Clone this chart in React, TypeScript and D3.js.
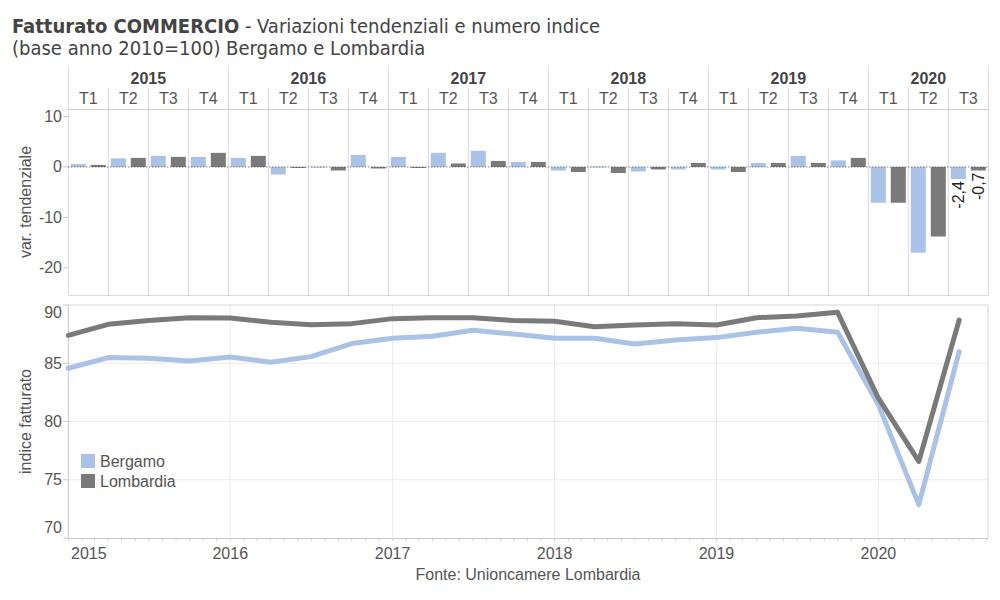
import React from "react";
import * as d3 from "d3";

const years = ["2015", "2016", "2017", "2018", "2019", "2020"];
const quartersPerYear = [4, 4, 4, 4, 4, 3];
const quarterLabels = ["T1", "T2", "T3", "T4"];
const periodDates = [
  "2015-01-01", "2015-04-01", "2015-07-01", "2015-10-01",
  "2016-01-01", "2016-04-01", "2016-07-01", "2016-10-01",
  "2017-01-01", "2017-04-01", "2017-07-01", "2017-10-01",
  "2018-01-01", "2018-04-01", "2018-07-01", "2018-10-01",
  "2019-01-01", "2019-04-01", "2019-07-01", "2019-10-01",
  "2020-01-01", "2020-04-01", "2020-07-01",
];
const varBergamo = [0.6, 1.7, 2.2, 2.0, 1.8, -1.5, 0.05, 2.4, 2.0, 2.8, 3.2, 1.0, -0.7, 0.1, -0.9, -0.5, -0.5, 0.8, 2.2, 1.3, -7.1, -17.0, -2.4];
const varLombardia = [0.4, 1.8, 2.0, 2.8, 2.2, -0.1, -0.7, -0.3, -0.1, 0.7, 1.2, 1.0, -1.0, -1.2, -0.5, 0.8, -1.0, 0.8, 0.8, 1.8, -7.1, -13.8, -0.7];
const idxBergamo = [84.57, 85.49, 85.43, 85.2, 85.54, 85.09, 85.57, 86.69, 87.14, 87.31, 87.83, 87.51, 87.14, 87.14, 86.66, 87.0, 87.2, 87.66, 88.0, 87.66, 81.43, 72.86, 86.0];
const idxLombardia = [87.4, 88.34, 88.66, 88.91, 88.89, 88.51, 88.31, 88.4, 88.83, 88.91, 88.91, 88.66, 88.6, 88.14, 88.29, 88.4, 88.29, 88.91, 89.06, 89.37, 82.0, 76.57, 88.71];
const seriesNames = ["Bergamo", "Lombardia"];
const seriesColors = ["#a9c2e5", "#7a7a7a"];
const varTicks = [10, 0, -10, -20];
const idxTicks = [90, 85, 80, 75, 70];
const yearTicks = ["2015-01-01", "2016-01-01", "2017-01-01", "2018-01-01", "2019-01-01", "2020-01-01"];

const FONT = "'Liberation Sans', Arial, sans-serif";
const TITLE_FONT = "'DejaVu Sans Condensed', 'DejaVu Sans', sans-serif";
const TEXT = "#555";

export default function App() {
  const L = 68.3, R = 988.3;
  const periods = years.flatMap((y, i) =>
    quarterLabels.slice(0, quartersPerYear[i]).map((q) => ({ year: y, q, key: y + q }))
  );
  const keys = periods.map((p) => p.key);
  const xBand = d3.scaleBand<string>().domain(keys).range([L, R]).padding(0);
  const xInner = d3.scaleBand<string>().domain(seriesNames).range([0, xBand.bandwidth()]).paddingInner(0.25).paddingOuter(0.125);
  const yVar = d3.scaleLinear().domain([-25.4, 11.5]).range([295, 109]);

  const parse = d3.timeParse("%Y-%m-%d");
  const dates = periodDates.map((d) => parse(d)!);
  const xTime = d3.scaleTime().domain([parse("2015-01-01")!, parse("2020-09-04")!]).range([L, 988]);
  const yIdx = d3.scaleLinear().domain([70, 90]).range([538, 305]);

  const line = d3.line<number>().x((_, i) => xTime(dates[i])).y((v) => yIdx(v));
  const varSeries = [varBergamo, varLombardia];
  const idxSeries = [idxBergamo, idxLombardia];
  const fmt = (v: number) => d3.format(".1f")(v).replace(".", ",").replace("−", "-");

  let acc = 0;
  const yearSpans = years.map((y, i) => {
    const start = xBand(keys[acc])!;
    acc += quartersPerYear[i];
    const end = acc < keys.length ? xBand(keys[acc])! : R;
    return { y, start, end };
  });
  const months = d3.timeMonth.range(parse("2015-01-01")!, parse("2020-09-04")!);

  return (
    <svg width={1000} height={600} style={{ position: "absolute", left: 0, top: 0, background: "#fff" }} fontFamily={FONT}>
      <rect width={1000} height={600} fill="#fff" />
      {/* title */}
      <text x={12} y={33} fontFamily={TITLE_FONT} fontSize={20} fill="#444" style={{ fontStretch: "condensed" }}>
        <tspan fontWeight="bold">Fatturato COMMERCIO</tspan>
        <tspan> - Variazioni tendenziali e numero indice</tspan>
      </text>
      <text x={12} y={55} fontFamily={TITLE_FONT} fontSize={20} fill="#444" style={{ fontStretch: "condensed" }}>
        (base anno 2010=100) Bergamo e Lombardia
      </text>

      {/* header */}
      {yearSpans.map((s) => (
        <g key={s.y}>
          <line x1={s.start} x2={s.start} y1={68} y2={109} stroke="#d6d6d6" />
          <text x={(s.start + s.end) / 2} y={78} textAnchor="middle" dominantBaseline="central" fontSize={16} fontWeight="bold" fill="#444">{s.y}</text>
        </g>
      ))}
      <line x1={R} x2={R} y1={68} y2={295} stroke="#d6d6d6" />
      {periods.map((p) => (
        <g key={p.key}>
          <line x1={xBand(p.key)!} x2={xBand(p.key)!} y1={p.q === "T1" ? 109 : 88} y2={295} stroke="#d9d9d9" />
          <text x={xBand(p.key)! + xBand.bandwidth() / 2} y={98} textAnchor="middle" dominantBaseline="central" fontSize={16} fill={TEXT}>{p.q}</text>
        </g>
      ))}
      <line x1={L} x2={R} y1={109.5} y2={109.5} stroke="#cfcfcf" />
      <line x1={L} x2={R} y1={295.5} y2={295.5} stroke="#d9d9d9" />

      {/* top y axis */}
      {varTicks.map((t) => (
        <g key={t}>
          <line x1={L - 5} x2={L} y1={yVar(t)} y2={yVar(t)} stroke="#c8c8c8" />
          <text x={62} y={yVar(t)} textAnchor="end" dominantBaseline="central" fontSize={16} fill={TEXT}>{t}</text>
        </g>
      ))}
      <text transform={`translate(25,${(109 + 295) / 2}) rotate(-90)`} textAnchor="middle" dominantBaseline="central" fontSize={16} fill={TEXT}>var. tendenziale</text>

      {/* bars */}
      {varSeries.map((vals, si) =>
        vals.map((v, i) => {
          const x = xBand(keys[i])! + xInner(seriesNames[si])!;
          const y0 = yVar(0), y1 = yVar(v);
          return (
            <rect key={si + "-" + i} x={x} width={xInner.bandwidth()} y={Math.min(y0, y1)} height={Math.max(Math.abs(y1 - y0), 1)} fill={seriesColors[si]} />
          );
        })
      )}
      <line x1={L} x2={R} y1={yVar(0)} y2={yVar(0)} stroke="#444" strokeDasharray="1,2" />
      {varSeries.map((vals, si) => {
        const i = vals.length - 1;
        const v = vals[i];
        const cx = xBand(keys[i])! + xInner(seriesNames[si])! + xInner.bandwidth() / 2;
        const y = yVar(Math.min(v, 0)) + 2;
        return (
          <text key={"lab" + si} transform={`translate(${cx},${y}) rotate(-90)`} textAnchor="end" dominantBaseline="central" fontSize={16} fill="#222">{fmt(v)}</text>
        );
      })}

      {/* bottom panel */}
      {idxTicks.filter((t) => t > 70 && t < 90).map((t) => (
        <line key={"g" + t} x1={L} x2={988} y1={yIdx(t)} y2={yIdx(t)} stroke="#ebebeb" />
      ))}
      {yearTicks.slice(1).map((d) => (
        <line key={"v" + d} x1={xTime(parse(d)!)} x2={xTime(parse(d)!)} y1={305} y2={538} stroke="#ebebeb" />
      ))}
      <line x1={L} x2={988} y1={305} y2={305} stroke="#d6d6d6" />
      <line x1={988} x2={988} y1={305} y2={538} stroke="#d6d6d6" />
      <line x1={L} x2={L} y1={305} y2={538} stroke="#c8c8c8" />
      <line x1={L} x2={988} y1={538.5} y2={538.5} stroke="#c8c8c8" />
      {months.map((m) => (
        <line key={"m" + m.getTime()} x1={xTime(m)} x2={xTime(m)} y1={538} y2={541} stroke="#d0d0d0" />
      ))}
      {idxTicks.map((t) => (
        <g key={"yt" + t}>
          <line x1={L - 5} x2={L} y1={yIdx(t)} y2={yIdx(t)} stroke="#c8c8c8" />
          <text x={62} y={Math.max(312, Math.min(527, yIdx(t)))} textAnchor="end" dominantBaseline="central" fontSize={16} fill={TEXT}>{t}</text>
        </g>
      ))}
      <text transform={`translate(25,${(305 + 538) / 2}) rotate(-90)`} textAnchor="middle" dominantBaseline="central" fontSize={16} fill={TEXT}>indice fatturato</text>
      {yearTicks.map((d, i) => (
        <text key={"xt" + d} x={i === 0 ? 71 : xTime(parse(d)!)} y={559} textAnchor={i === 0 ? "start" : "middle"} fontSize={16} fill={TEXT}>{d.slice(0, 4)}</text>
      ))}

      {idxSeries.map((vals, si) => (
        <path key={"line" + si} d={line(vals)!} fill="none" stroke={seriesColors[si]} strokeWidth={5} strokeLinejoin="round" strokeLinecap="round" />
      ))}

      {/* legend */}
      {seriesNames.map((n, i) => (
        <g key={"leg" + n}>
          <rect x={81} y={454 + i * 20} width={14} height={14} fill={seriesColors[i]} />
          <text x={100} y={461 + i * 20} dominantBaseline="central" fontSize={16} fill={TEXT}>{n}</text>
        </g>
      ))}

      <text x={528} y={580} textAnchor="middle" fontSize={16} fill={TEXT}>Fonte: Unioncamere Lombardia</text>
    </svg>
  );
}
